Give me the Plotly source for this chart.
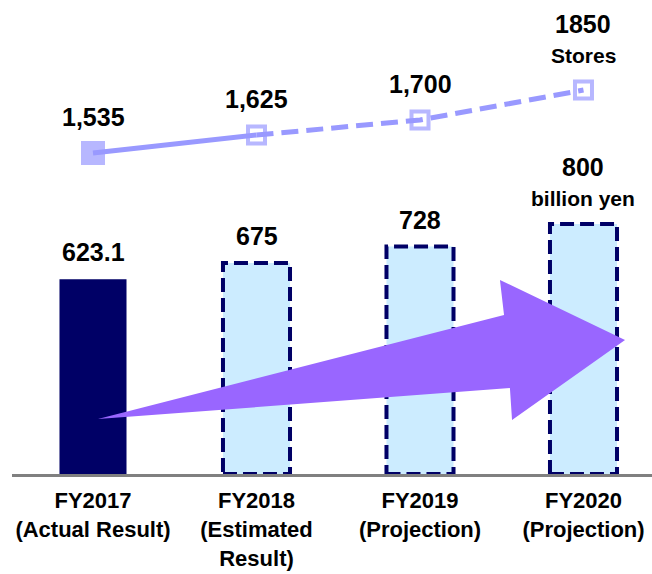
import plotly.graph_objects as go

categories = ["FY2017<br>(Actual Result)", "FY2018<br>(Estimated<br>Result)",
              "FY2019<br>(Projection)", "FY2020<br>(Projection)"]
sales = [623.1, 675, 728, 800]            # billion yen
sales_labels = ["623.1", "675", "728", "800"]
sales_unit = ["", "", "", "billion yen"]
stores = [1535, 1625, 1700, 1850]
store_labels = ["1,535", "1,625", "1,700", "1850"]
store_unit = ["", "", "", "Stores"]
actual = [True, False, False, False]

# decorative growth arrow outline (x in category units, y in sales units)
arrow_x = [0.03, 2.514, 2.489, 3.254, 2.563, 2.550]
arrow_y = [176, 509, 621, 429, 173, 275]

NAVY = "#000066"
LIGHT = "#CCECFF"
LINE = "#9999FF"
ARROW = "#9966FF"
FONT = "Liberation Sans, Arial, sans-serif"

xs = list(range(len(categories)))
bw = 0.41

fig = go.Figure()
fig.add_trace(go.Bar(
    x=xs, y=sales, width=bw,
    marker=dict(color=[NAVY if a else LIGHT for a in actual], line=dict(width=0)),
    hoverinfo="skip", showlegend=False))

shapes = []
for i, (v, a) in enumerate(zip(sales, actual)):
    if not a:
        shapes.append(dict(type="rect", xref="x", yref="y",
                           x0=i - bw / 2, x1=i + bw / 2, y0=0, y1=v,
                           line=dict(color=NAVY, width=4, dash="14px,6px"),
                           layer="above"))

path = "M " + " L ".join(f"{x},{y}" for x, y in zip(arrow_x, arrow_y)) + " Z"
shapes.append(dict(type="path", xref="x", yref="y", path=path,
                   fillcolor=ARROW, line=dict(width=0), layer="above"))

# store count line: solid for actual, dashed for plan
fig.add_trace(go.Scatter(x=xs[:2], y=stores[:2], yaxis="y2", mode="lines",
                         line=dict(color=LINE, width=5), hoverinfo="skip",
                         showlegend=False))
fig.add_trace(go.Scatter(x=xs[1:], y=stores[1:], yaxis="y2", mode="lines",
                         line=dict(color=LINE, width=5, dash="17px,8px"),
                         hoverinfo="skip", showlegend=False))
fig.add_trace(go.Scatter(x=xs, y=stores, yaxis="y2", mode="markers",
                         marker=dict(symbol=["square" if a else "square-open" for a in actual],
                                     size=[20 if a else 17 for a in actual],
                                     color=LINE, line=dict(color=LINE, width=4)),
                         hoverinfo="skip", showlegend=False))

ann = []
for i, (lab, u, v) in enumerate(zip(sales_labels, sales_unit, sales)):
    ann.append(dict(x=i, y=v, xref="x", yref="y", text=lab, showarrow=False,
                    yshift=57 if u else 27, yanchor="middle",
                    font=dict(size=25, family=FONT, color="black", weight=700)))
    if u:
        ann.append(dict(x=i, y=v, xref="x", yref="y", text=u, showarrow=False,
                        yshift=26, yanchor="middle",
                        font=dict(size=21, family=FONT, color="black", weight=700)))
for i, (lab, u, v) in enumerate(zip(store_labels, store_unit, stores)):
    ann.append(dict(x=i, y=v, xref="x", yref="y2", text=lab, showarrow=False,
                    yshift=66 if u else 36, yanchor="middle",
                    font=dict(size=25, family=FONT, color="black", weight=700)))
    if u:
        ann.append(dict(x=i, y=v, xref="x", yref="y2", text=u, showarrow=False,
                        yshift=35, yanchor="middle",
                        font=dict(size=21, family=FONT, color="black", weight=700)))

fig.update_layout(
    width=652, height=574,
    margin=dict(l=12, r=0, t=10, b=100),
    paper_bgcolor="white", plot_bgcolor="white",
    shapes=shapes, annotations=ann,
    xaxis=dict(range=[-0.4954, 3.419], tickvals=xs, ticktext=categories,
               showgrid=False, zeroline=False, showline=True,
               linecolor="#808080", linewidth=3, ticks="", ticklabelstandoff=5,
               tickfont=dict(size=22, family=FONT, color="black", weight=700)),
    yaxis=dict(range=[0, 1484.8], visible=False, fixedrange=True),
    yaxis2=dict(range=[-70, 2250], visible=False, overlaying="y"),
)

fig.write_html("out.html")
